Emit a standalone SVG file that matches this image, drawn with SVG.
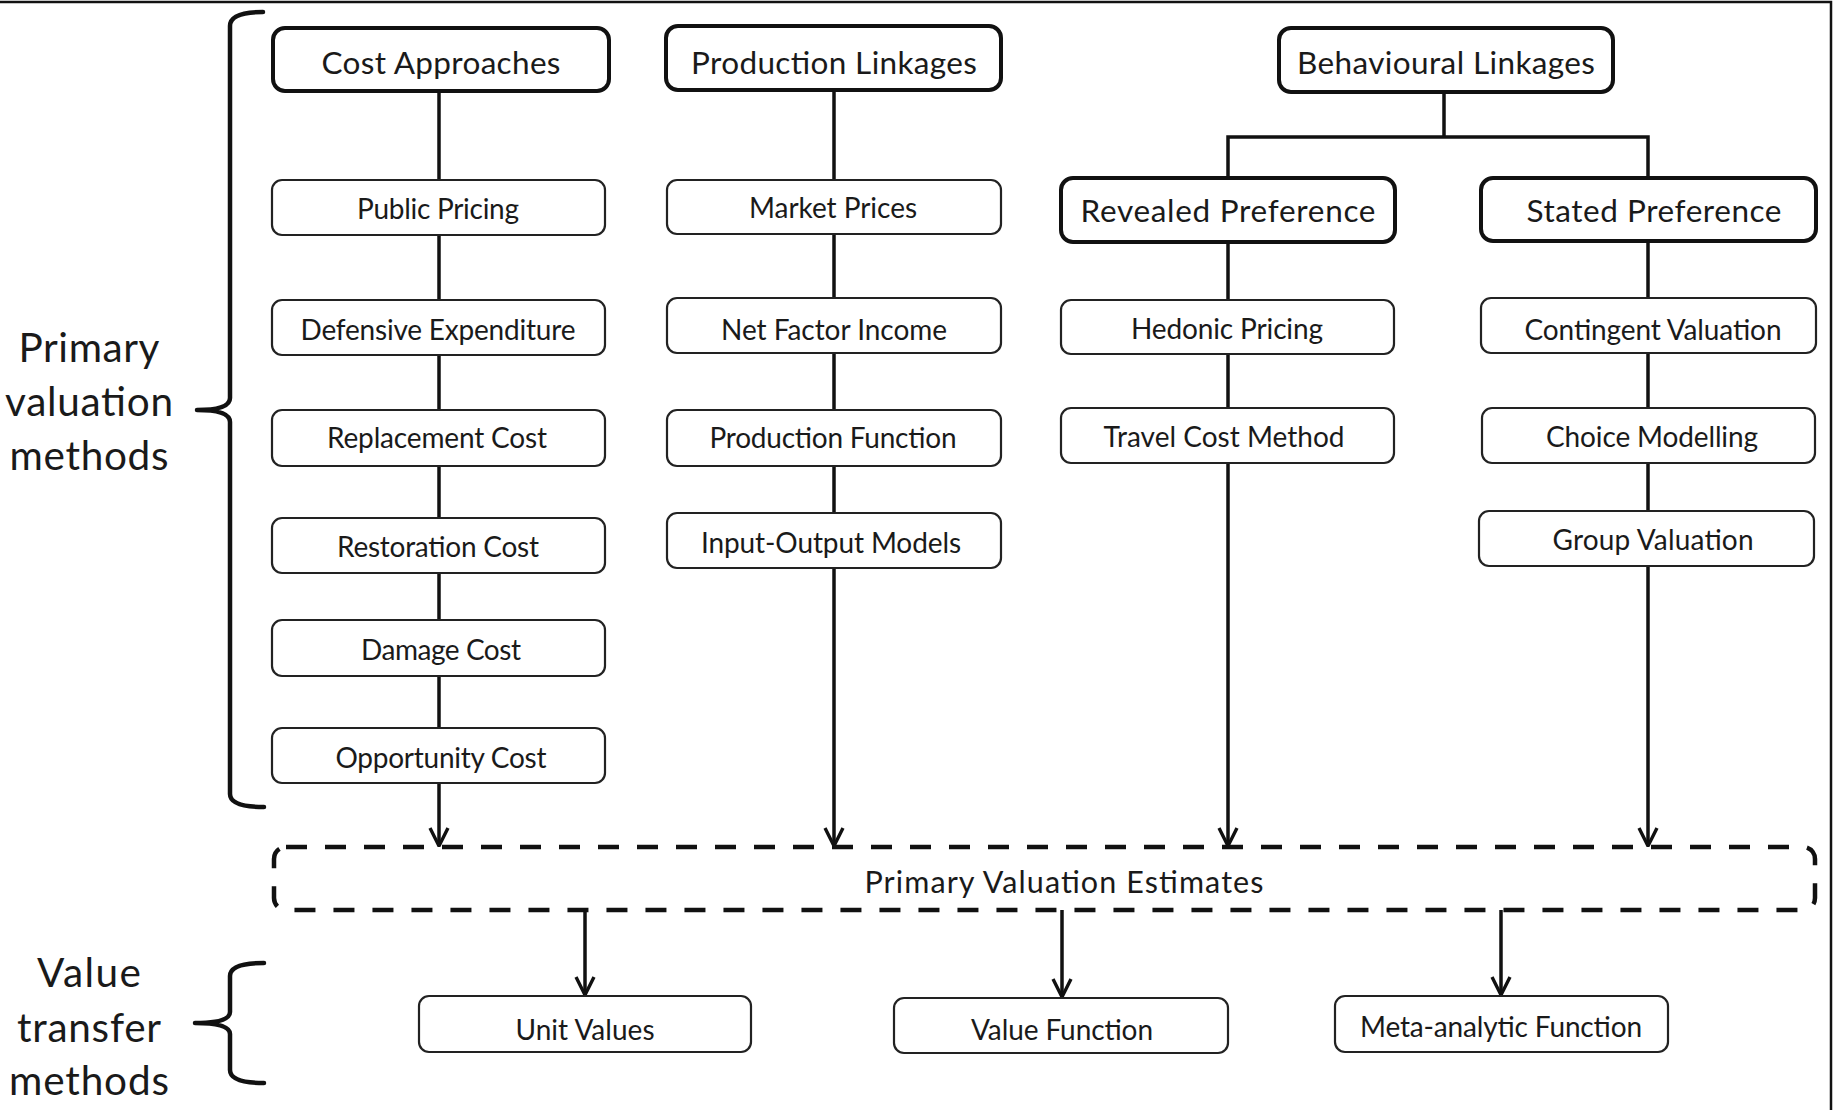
<svg xmlns="http://www.w3.org/2000/svg" width="1835" height="1110" viewBox="0 0 1835 1110">
  <defs>
    <marker id="vee" markerUnits="userSpaceOnUse" viewBox="0 0 20 20" markerWidth="20" markerHeight="20" refX="18" refY="10" orient="auto" overflow="visible">
      <path d="M0,1 L18,10 L0,19" fill="none" stroke="#111" stroke-width="3.4" stroke-linejoin="miter"/>
    </marker>
    <style>
      .frame { fill: none; stroke: #111; stroke-width: 2.5; }
      .head rect { fill: #fff; stroke: #111; stroke-width: 4; }
      .item rect { fill: #fff; stroke: #222; stroke-width: 2.2; }
      .head text { font-family: Lato, "Liberation Sans", sans-serif; font-size: 31.5px; fill: #1a1a1a; text-anchor: middle; }
      .item text { font-family: Lato, "Liberation Sans", sans-serif; font-size: 28px; fill: #1a1a1a; text-anchor: middle; }
      .side text { font-family: Lato, "Liberation Sans", sans-serif; font-size: 40.5px; fill: #1a1a1a; text-anchor: middle; }
      .brace { fill: none; stroke: #111; stroke-width: 4.5; stroke-linecap: round; stroke-linejoin: round; }
      .link { fill: none; stroke: #111; stroke-width: 3.5; }
      .arrow { fill: none; stroke: #111; stroke-width: 3.5; marker-end: url(#vee); }
      .pool rect { fill: #fff; stroke: #111; stroke-width: 4.5; stroke-dasharray: 21 18; }
      .pool text { font-family: Lato, "Liberation Sans", sans-serif; font-size: 30.5px; fill: #1a1a1a; text-anchor: middle; }
    </style>
  </defs>

  <!-- picture frame (top and right edges) -->
  <path class="frame" d="M0,2 H1831 V1110"/>

  <!-- side labels with braces -->
  <g id="label-primary" class="side">
    <path class="brace" d="M263,12 Q230,12 230,26 L230,398 Q230,410 197,410 Q230,410 230,422 L230,794 Q230,807 264,807"/>
    <text x="89" y="362" textLength="141">Primary</text>
    <text x="89" y="416" textLength="168">valuation</text>
    <text x="89" y="470" textLength="159">methods</text>
  </g>
  <g id="label-transfer" class="side">
    <path class="brace" d="M264,963 Q230,963 230,976 L230,1012 Q230,1023 195,1023 Q230,1023 230,1034 L230,1070 Q230,1083 264,1083"/>
    <text x="89" y="987" textLength="104">Value</text>
    <text x="89" y="1042" textLength="144">transfer</text>
    <text x="89" y="1095" textLength="160">methods</text>
  </g>

  <!-- connectors -->
  <g id="connectors">
    <!-- cost approaches column -->
    <path class="link" d="M439,91 V728"/>
    <path class="arrow" d="M439,783 V846"/>
    <!-- production linkages column -->
    <path class="link" d="M834,90 V513"/>
    <path class="arrow" d="M834,568 V846"/>
    <!-- behavioural linkages split -->
    <path class="link" d="M1444,92 V137 M1228,178 V137 H1648 V178"/>
    <!-- revealed preference column -->
    <path class="link" d="M1228,242 V408"/>
    <path class="arrow" d="M1228,463 V846"/>
    <!-- stated preference column -->
    <path class="link" d="M1648,241 V511"/>
    <path class="arrow" d="M1648,566 V846"/>
    <!-- value transfer outputs -->
    <path class="arrow" d="M585,910 V995"/>
    <path class="arrow" d="M1062,910 V997"/>
    <path class="arrow" d="M1501,910 V995"/>
  </g>

  <!-- headers -->
  <g id="cost-approaches" class="head">
    <rect x="273" y="28" width="336" height="63" rx="12"/>
    <text x="441" y="74" textLength="239">Cost Approaches</text>
  </g>
  <g id="production-linkages" class="head">
    <rect x="666" y="26" width="335" height="64" rx="12"/>
    <text x="834" y="74" textLength="286">Production Linkages</text>
  </g>
  <g id="behavioural-linkages" class="head">
    <rect x="1279" y="28" width="334" height="64" rx="12"/>
    <text x="1446" y="74" textLength="298">Behavioural Linkages</text>
  </g>
  <g id="revealed-preference" class="head">
    <rect x="1061" y="178" width="334" height="64" rx="12"/>
    <text x="1228" y="222" textLength="295">Revealed Preference</text>
  </g>
  <g id="stated-preference" class="head">
    <rect x="1481" y="178" width="335" height="63" rx="12"/>
    <text x="1654" y="222" textLength="255">Stated Preference</text>
  </g>

  <!-- cost approaches methods -->
  <g id="public-pricing" class="item">
    <rect x="272" y="180" width="333" height="55" rx="10"/>
    <text x="438" y="219" textLength="162">Public Pricing</text>
  </g>
  <g id="defensive-expenditure" class="item">
    <rect x="272" y="300" width="333" height="55" rx="10"/>
    <text x="438" y="340" textLength="275">Defensive Expenditure</text>
  </g>
  <g id="replacement-cost" class="item">
    <rect x="272" y="410" width="333" height="56" rx="10"/>
    <text x="437" y="448" textLength="220">Replacement Cost</text>
  </g>
  <g id="restoration-cost" class="item">
    <rect x="272" y="518" width="333" height="55" rx="10"/>
    <text x="438" y="557" textLength="202">Restoration Cost</text>
  </g>
  <g id="damage-cost" class="item">
    <rect x="272" y="620" width="333" height="56" rx="10"/>
    <text x="441" y="660" textLength="160">Damage Cost</text>
  </g>
  <g id="opportunity-cost" class="item">
    <rect x="272" y="728" width="333" height="55" rx="10"/>
    <text x="441" y="768" textLength="211">Opportunity Cost</text>
  </g>

  <!-- production linkages methods -->
  <g id="market-prices" class="item">
    <rect x="667" y="180" width="334" height="54" rx="10"/>
    <text x="833" y="218" textLength="168">Market Prices</text>
  </g>
  <g id="net-factor-income" class="item">
    <rect x="667" y="298" width="334" height="55" rx="10"/>
    <text x="834" y="340" textLength="226">Net Factor Income</text>
  </g>
  <g id="production-function" class="item">
    <rect x="667" y="410" width="334" height="56" rx="10"/>
    <text x="833" y="448" textLength="247">Production Function</text>
  </g>
  <g id="input-output-models" class="item">
    <rect x="667" y="513" width="334" height="55" rx="10"/>
    <text x="831" y="553" textLength="260">Input-Output Models</text>
  </g>

  <!-- revealed preference methods -->
  <g id="hedonic-pricing" class="item">
    <rect x="1061" y="300" width="333" height="54" rx="10"/>
    <text x="1227" y="339" textLength="192">Hedonic Pricing</text>
  </g>
  <g id="travel-cost-method" class="item">
    <rect x="1061" y="408" width="333" height="55" rx="10"/>
    <text x="1224" y="447" textLength="241">Travel Cost Method</text>
  </g>

  <!-- stated preference methods -->
  <g id="contingent-valuation" class="item">
    <rect x="1481" y="298" width="335" height="55" rx="10"/>
    <text x="1653" y="340" textLength="257">Contingent Valuation</text>
  </g>
  <g id="choice-modelling" class="item">
    <rect x="1482" y="408" width="333" height="55" rx="10"/>
    <text x="1652" y="447" textLength="212">Choice Modelling</text>
  </g>
  <g id="group-valuation" class="item">
    <rect x="1479" y="511" width="335" height="55" rx="10"/>
    <text x="1653" y="550" textLength="201">Group Valuation</text>
  </g>

  <!-- pooled primary estimates -->
  <g id="primary-valuation-estimates" class="pool">
    <rect x="274" y="847" width="1541" height="63" rx="12"/>
    <text x="1064" y="893" textLength="399">Primary Valuation Estimates</text>
  </g>

  <!-- value transfer methods -->
  <g id="unit-values" class="item">
    <rect x="419" y="996" width="332" height="56" rx="10"/>
    <text x="585" y="1040" textLength="139">Unit Values</text>
  </g>
  <g id="value-function" class="item">
    <rect x="894" y="998" width="334" height="55" rx="10"/>
    <text x="1062" y="1040" textLength="182">Value Function</text>
  </g>
  <g id="meta-analytic-function" class="item">
    <rect x="1335" y="996" width="333" height="56" rx="10"/>
    <text x="1501" y="1037" textLength="282">Meta-analytic Function</text>
  </g>
</svg>
